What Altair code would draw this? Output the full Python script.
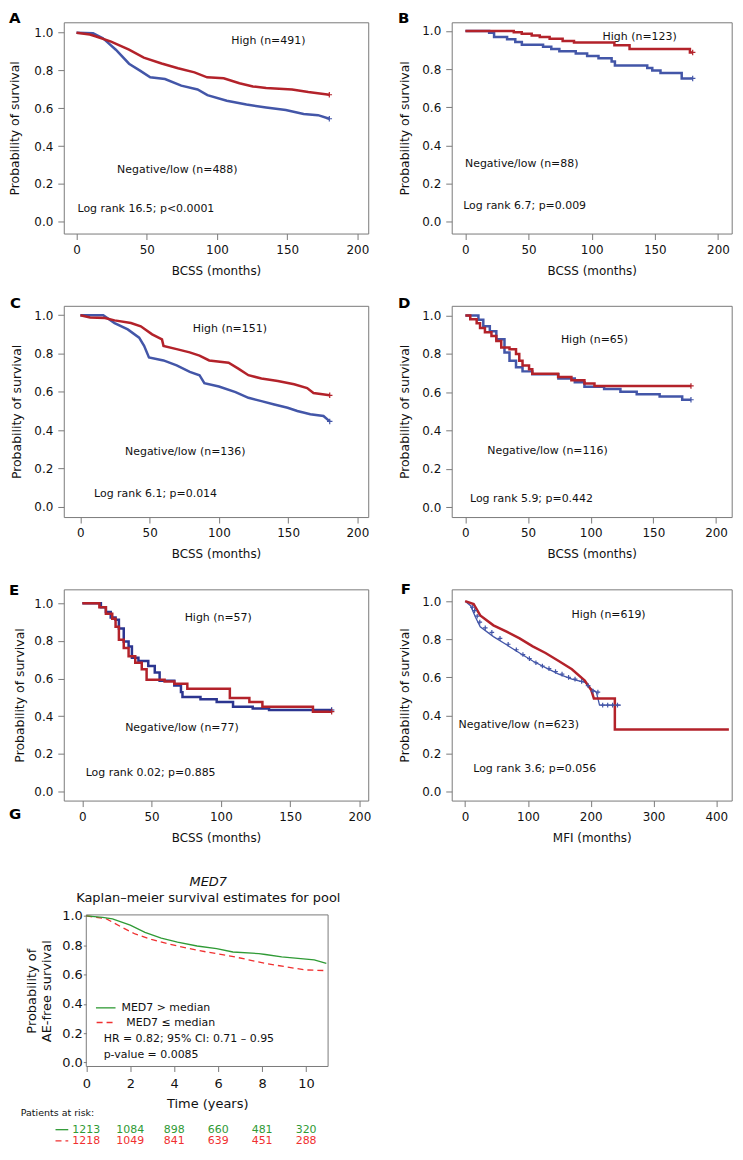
import altair as alt
import pandas as pd

SX = 0.983
SY = 0.982


def hx(v):
    return round(v * SX, 2)


def vy(v):
    return round(v * SY, 2)


FONT = "DejaVu Sans"
RED = "#b3222a"
BLUE = "#4356a8"
NAVY = "#2b3590"
GREEN = "#2f9a35"
GRED = "#f03030"
FRAME = "#7a7a7a"
INK = "#111111"
PLUS = "M-1,0L1,0M0,-1L0,1"
LETTER_FIX = 14.8

Y_TICKS = [0.0, 0.2, 0.4, 0.6, 0.8, 1.0]
BCSS_TICKS = [0, 50, 100, 150, 200]
MFI_TICKS = [0, 100, 200, 300, 400]
G_X_TICKS = [0, 2, 4, 6, 8, 10]

# ---------------- Panel A ----------------
a_hi_t = [0, 9.5, 14, 24.6, 37.4, 47.9, 60.6, 72.3, 84, 93, 104.8, 116, 125.6, 135, 153.5, 165, 180]
a_hi_s = [1.0, 0.99, 0.98, 0.953, 0.91, 0.868, 0.837, 0.812, 0.79, 0.764, 0.759, 0.733, 0.716, 0.707, 0.70, 0.686, 0.672]
a_lo_t = [0, 11.8, 18.8, 28, 37.4, 45.5, 52.5, 63, 74.6, 86.2, 93.2, 107, 121, 135, 149, 161.7, 172, 180]
a_lo_s = [1.0, 0.997, 0.971, 0.91, 0.836, 0.798, 0.764, 0.755, 0.72, 0.70, 0.67, 0.64, 0.62, 0.605, 0.591, 0.57, 0.564, 0.545]

# ---------------- Panel B ----------------
b_hi_t = [0, 38.3, 44.6, 52.5, 58.9, 66.7, 77, 86, 118, 130, 177.8, 180]
b_hi_s = [1.0, 0.993, 0.985, 0.976, 0.968, 0.959, 0.947, 0.939, 0.925, 0.905, 0.887, 0.887]
b_lo_t = [0, 18.8, 22.7, 33, 39.5, 44.7, 61.5, 68, 74.4, 87.4, 96.4, 105.4, 115.8, 118.4, 144, 148, 154.5, 171.3, 180]
b_lo_s = [1.0, 0.99, 0.968, 0.956, 0.942, 0.928, 0.917, 0.905, 0.894, 0.882, 0.869, 0.857, 0.84, 0.819, 0.806, 0.792, 0.78, 0.751, 0.751]

# ---------------- Panel C ----------------
c_hi_t = [0, 7, 17.7, 24.7, 36.5, 43.6, 51.8, 58.9, 60, 69.5, 78.9, 86, 93, 107, 114.3, 121.3, 130.7, 142.5, 154.3, 163.7, 168.3, 180]
c_hi_s = [1.0, 0.988, 0.985, 0.973, 0.959, 0.942, 0.90, 0.874, 0.84, 0.823, 0.806, 0.789, 0.764, 0.752, 0.72, 0.687, 0.67, 0.657, 0.64, 0.62, 0.594, 0.582]
c_lo_t = [0, 16.5, 24.7, 34.2, 42.4, 46, 49.5, 60, 69.5, 79, 86, 89.5, 100, 112, 121.3, 130.7, 140, 149.6, 156.6, 166, 175.5, 180]
c_lo_s = [1.0, 1.0, 0.959, 0.926, 0.883, 0.84, 0.78, 0.764, 0.738, 0.704, 0.687, 0.645, 0.628, 0.599, 0.569, 0.552, 0.534, 0.517, 0.50, 0.483, 0.474, 0.446]

# ---------------- Panel D ----------------
d_hi_t = [0, 3.9, 9, 11.7, 15.6, 20.8, 24.7, 28.6, 35.2, 40.4, 43, 45.6, 50.8, 53.4, 74, 84.6, 95, 103, 180]
d_hi_s = [1.0, 0.981, 0.96, 0.935, 0.913, 0.893, 0.867, 0.833, 0.825, 0.80, 0.765, 0.74, 0.72, 0.697, 0.68, 0.663, 0.646, 0.633, 0.633]
d_lo_t = [0, 6.5, 10.4, 14.3, 19.5, 24.7, 31.2, 35.2, 40.4, 45.6, 53.4, 74.2, 87.3, 95, 110.7, 123.7, 136.7, 155, 173, 180]
d_lo_s = [1.0, 1.0, 0.978, 0.944, 0.918, 0.876, 0.808, 0.765, 0.731, 0.709, 0.694, 0.672, 0.652, 0.629, 0.617, 0.603, 0.59, 0.578, 0.561, 0.561]

# ---------------- Panel E ----------------
e_hi_t = [0, 9.9, 12.3, 17, 21.6, 24, 26.4, 29.9, 33.4, 38.2, 42.9, 46.4, 59.4, 66.4, 75.8, 106.5, 120.6, 130, 166.5, 180]
e_hi_s = [1.0, 1.0, 0.979, 0.944, 0.918, 0.875, 0.806, 0.762, 0.719, 0.684, 0.65, 0.594, 0.584, 0.572, 0.546, 0.497, 0.476, 0.45, 0.424, 0.424]
e_lo_t = [0, 11, 13.4, 17, 20.5, 24, 26.4, 29.9, 33.4, 35.8, 40.5, 47.6, 52.3, 55.8, 66.4, 71.2, 72.3, 85.3, 97, 108.8, 123, 134.8, 180]
e_lo_s = [1.0, 1.0, 0.979, 0.953, 0.924, 0.913, 0.866, 0.797, 0.771, 0.71, 0.693, 0.667, 0.632, 0.589, 0.563, 0.528, 0.502, 0.49, 0.476, 0.45, 0.441, 0.433, 0.433]

# ---------------- Panel F ----------------
f_hi_t = [0, 13.5, 24, 45, 66, 86.7, 107.6, 128, 149, 170, 190.5, 201, 205, 238.4, 238.4, 420]
f_hi_s = [1.0, 0.985, 0.925, 0.873, 0.84, 0.805, 0.763, 0.728, 0.686, 0.643, 0.584, 0.532, 0.489, 0.489, 0.327, 0.327]
f_lo_t = [0, 8.7, 16.5, 24, 45, 66, 86.7, 107.6, 128, 149, 170, 190.5, 201, 209, 214, 248]
f_lo_s = [1.0, 0.976, 0.916, 0.865, 0.814, 0.771, 0.728, 0.686, 0.651, 0.617, 0.591, 0.574, 0.54, 0.523, 0.455, 0.455]
# censor crosses visible on the negative/low MFI curve
f_cens_t = [11.4, 15, 19.2, 23.3, 32, 42.5, 55.5, 68.5, 81.5, 92, 102.3, 112.7, 123, 133.5, 143.9, 154.3,
            164.7, 175, 185.5, 195.8, 203.6, 211.4, 219, 227, 234.8, 242.6]
f_cens_s = [0.968, 0.95, 0.921, 0.89, 0.86, 0.836, 0.805, 0.774, 0.745, 0.72, 0.699, 0.677, 0.66, 0.646, 0.631, 0.617,
            0.60, 0.591, 0.579, 0.557, 0.528, 0.523, 0.455, 0.455, 0.455, 0.455]

# ---------------- Panel G ----------------
g_hi_t = [0, 0.74, 1.19, 2.0, 2.67, 3.41, 4.15, 5.04, 5.93, 6.67, 7.85, 8.15, 8.89, 9.63, 10.37, 10.92]
g_hi_s = [1.0, 0.99, 0.98, 0.9375, 0.888, 0.848, 0.821, 0.795, 0.777, 0.754, 0.743, 0.737, 0.721, 0.71, 0.70, 0.676]
g_lo_t = [0, 0.89, 1.63, 2.22, 2.96, 3.7, 4.59, 5.48, 6.37, 7.26, 8.15, 9.04, 9.93, 10.92]
g_lo_s = [1.0, 0.982, 0.922, 0.877, 0.84, 0.81, 0.781, 0.754, 0.732, 0.705, 0.676, 0.654, 0.632, 0.627]

risk_t = [0, 2, 4, 6, 8, 10]
risk_hi = [1213, 1084, 898, 660, 481, 320]
risk_lo = [1218, 1049, 841, 639, 451, 288]

# annotation texts: (label, t, s)
notes = {
    "A": [("High (n=491)", 136.6, 0.957), ("Negative/low (n=488)", 71.8, 0.274), ("Log rank 16.5; p<0.0001", 0.7, 0.067)],
    "B": [("High (n=123)", 138, 0.969), ("Negative/low (n=88)", 44.6, 0.303), ("Log rank 6.7; p=0.009", -1.8, 0.082)],
    "C": [("High (n=151)", 107.9, 0.927), ("Negative/low (n=136)", 75.7, 0.286), ("Log rank 6.1; p=0.014", 9.9, 0.068)],
    "D": [("High (n=65)", 103, 0.872), ("Negative/low (n=116)", 65.5, 0.291), ("Log rank 5.9; p=0.442", 3.7, 0.044)],
    "E": [("High (n=57)", 98.1, 0.922), ("Negative/low (n=77)", 71.9, 0.338), ("Log rank 0.02; p=0.885", 2.4, 0.099)],
    "F": [("High (n=619)", 228.4, 0.928), ("Negative/low (n=623)", 85.4, 0.352), ("Log rank 3.6; p=0.056", 12.9, 0.122)],
}

W_LEFT, W_RIGHT, H_ROW = 311, 286, 216
LW = 2.5


def text_layer(df, X, Y, align, size=11, color=INK, style="normal"):
    return alt.Chart(df).mark_text(
        align=align, baseline="middle", fontSize=size, font=FONT, color=color, fontStyle=style
    ).encode(x=X, y=Y, text="label:N")


def letter_title(letter, ldx, ldy):
    return alt.TitleParams(letter, anchor="start", frame="group", offset=0, dx=hx(ldx), dy=vy(ldy + LETTER_FIX),
                           fontSize=15, fontWeight="bold", font=FONT, baseline="alphabetic", color="black")


def km_panel(letter, ldx, ldy, width, xdom, ydom, xticks, xtitle, title_x, curves, censors):
    xs = alt.Scale(domain=xdom, nice=False, zero=False)
    ys = alt.Scale(domain=ydom, nice=False, zero=False)
    xa = alt.Axis(values=xticks, title=xtitle, grid=False, domain=False, tickSize=6, tickColor=FRAME,
                  labelPadding=5, labelFlush=False, labelFontSize=12, titleFontSize=12,
                  titleFontWeight="normal", titleY=vy(37.5), titleBaseline="middle",
                  labelColor=INK, titleColor=INK)
    ya = alt.Axis(values=Y_TICKS, format=".1f", title="Probability of survival", grid=False, domain=False,
                  tickSize=6, tickColor=FRAME, labelPadding=5, labelFontSize=12, titleFontSize=12.5,
                  titleFontWeight="normal", titleX=hx(title_x), titleBaseline="middle",
                  labelColor=INK, titleColor=INK)
    X = alt.X("t:Q", scale=xs, axis=xa)
    Y = alt.Y("s:Q", scale=ys, axis=ya)
    layers = []
    for (t, s, color, interp, sw) in curves:
        df = pd.DataFrame({"t": t, "s": s})
        layers.append(alt.Chart(df).mark_line(color=color, strokeWidth=sw, interpolate=interp).encode(x=X, y=Y))
    for (t, s, color, size) in censors:
        df = pd.DataFrame({"t": t, "s": s})
        layers.append(alt.Chart(df).mark_point(shape=PLUS, size=size, filled=False, color=color,
                                               strokeWidth=1.2, opacity=1).encode(x=X, y=Y))
    nl = notes[letter]
    center_df = pd.DataFrame({"label": [nl[0][0], nl[1][0]], "t": [nl[0][1], nl[1][1]], "s": [nl[0][2], nl[1][2]]})
    left_df = pd.DataFrame({"label": [nl[2][0]], "t": [nl[2][1]], "s": [nl[2][2]]})
    layers.append(text_layer(center_df, X, Y, "center"))
    layers.append(text_layer(left_df, X, Y, "left"))
    return alt.layer(*layers).properties(width=hx(width), height=vy(H_ROW), title=letter_title(letter, ldx, ldy))


pA = km_panel("A", -56, 1.3, W_LEFT, [-9.06, 207.7], [-0.062, 1.055], BCSS_TICKS, "BCSS (months)", -50,
              [(a_lo_t, a_lo_s, BLUE, "linear", LW), (a_hi_t, a_hi_s, RED, "linear", LW)],
              [([a_lo_t[-1]], [a_lo_s[-1]], BLUE, 30), ([a_hi_t[-1]], [a_hi_s[-1]], RED, 30)])
pB = km_panel("B", -55, 1.3, W_RIGHT, [-10.85, 210.9], [-0.061, 1.045], BCSS_TICKS, "BCSS (months)", -48,
              [(b_lo_t, b_lo_s, BLUE, "step-after", LW), (b_hi_t, b_hi_s, RED, "step-after", LW)],
              [([b_lo_t[-1]], [b_lo_s[-1]], BLUE, 30), ([b_hi_t[-1]], [b_hi_s[-1]], RED, 30)])
pC = km_panel("C", -55, 2.3, W_LEFT, [-12.0, 207.8], [-0.053, 1.049], BCSS_TICKS, "BCSS (months)", -48,
              [(c_lo_t, c_lo_s, BLUE, "linear", LW), (c_hi_t, c_hi_s, RED, "linear", LW)],
              [([c_lo_t[-1]], [c_lo_s[-1]], BLUE, 30), ([c_hi_t[-1]], [c_hi_s[-1]], RED, 30)])
pD = km_panel("D", -55, 2.3, W_RIGHT, [-10.9, 212.5], [-0.051, 1.051], BCSS_TICKS, "BCSS (months)", -48,
              [(d_lo_t, d_lo_s, BLUE, "step-after", LW), (d_hi_t, d_hi_s, RED, "step-after", LW)],
              [([d_lo_t[-1]], [d_lo_s[-1]], BLUE, 30), ([d_hi_t[-1]], [d_hi_s[-1]], RED, 30)])
pE = km_panel("E", -56, 6.7, W_LEFT, [-13.4, 206.4], [-0.048, 1.074], BCSS_TICKS, "BCSS (months)", -45,
              [(e_lo_t, e_lo_s, NAVY, "step-after", LW), (e_hi_t, e_hi_s, RED, "step-after", LW)],
              [([e_lo_t[-1]], [e_lo_s[-1]], NAVY, 30), ([e_hi_t[-1]], [e_hi_s[-1]], RED, 30)])
pF = km_panel("F", -52, 5, W_RIGHT, [-21.4, 424.5], [-0.046, 1.062], MFI_TICKS, "MFI (months)", -48,
              [(f_lo_t, f_lo_s, BLUE, "linear", 1.3), (f_hi_t, f_hi_s, RED, "linear", LW)],
              [(f_cens_t, f_cens_s, BLUE, 22)])

# ---------------- Panel G build ----------------
G_XDOM = [0, 11]
G_YDOM = [-0.027, 1.007]
gxs = alt.Scale(domain=G_XDOM, range=[hx(23), hx(270)], nice=False, zero=False)
gys = alt.Scale(domain=G_YDOM, range=[vy(198), vy(43)], nice=False, zero=False)
gxa = alt.Axis(values=G_X_TICKS, title="Time (years)", grid=False, domain=False, tickSize=5, tickColor=FRAME,
               labelPadding=6, labelFlush=False, labelFontSize=13, titleFontSize=13, titleFontWeight="normal",
               titleY=vy(38), titleBaseline="middle", labelColor=INK, titleColor=INK)
gya = alt.Axis(values=Y_TICKS, format=".1f", title=["Probability of", "AE-free survival"], grid=False,
               domain=False, tickSize=3, tickColor=FRAME, labelPadding=1, offset=-hx(23), titleX=-hx(56),
               titleBaseline="middle", titleLineHeight=15, labelFontSize=13, titleFontSize=13,
               titleFontWeight="normal", labelColor=INK, titleColor=INK)
GX = alt.X("t:Q", scale=gxs, axis=gxa)
GY = alt.Y("s:Q", scale=gys, axis=gya)

g_frame = alt.Chart(pd.DataFrame({"t": [G_XDOM[0]], "t2": [G_XDOM[1]], "s": [G_YDOM[0]], "s2": [G_YDOM[1]]})).mark_rect(
    fill="transparent", stroke=FRAME, strokeWidth=1).encode(x=GX, x2="t2:Q", y=GY, y2="s2:Q")
g_lo = alt.Chart(pd.DataFrame({"t": g_lo_t, "s": g_lo_s})).mark_line(
    color=GRED, strokeWidth=1.3, strokeDash=[6, 4]).encode(x=GX, y=GY)
g_hi = alt.Chart(pd.DataFrame({"t": g_hi_t, "s": g_hi_s})).mark_line(
    color=GREEN, strokeWidth=1.3).encode(x=GX, y=GY)

leg_green = alt.Chart(pd.DataFrame({"t": [0.44, -1.4], "t2": [1.33, -0.82], "s": [0.373, -0.458]})).mark_rule(
    color=GREEN, strokeWidth=1.3).encode(x=GX, x2="t2:Q", y=GY)
leg_red = alt.Chart(pd.DataFrame({"t": [0.47, -1.4], "t2": [1.33, -0.82], "s": [0.273, -0.535]})).mark_rule(
    color=GRED, strokeWidth=1.3, strokeDash=[6, 4]).encode(x=GX, x2="t2:Q", y=GY)

g_title_it = text_layer(pd.DataFrame({"label": ["MED7"], "t": [5.55], "s": [1.231]}), GX, GY, "center", size=13, style="italic")
g_title = text_layer(pd.DataFrame({"label": ["Kaplan\u2013meier survival estimates for pool"], "t": [5.55], "s": [1.125]}),
                     GX, GY, "center", size=13)
g_notes = text_layer(pd.DataFrame({
    "label": ["MED7 > median", "MED7 \u2264 median", "HR = 0.82; 95% CI: 0.71 \u2013 0.95", "p-value = 0.0085"],
    "t": [1.6, 1.82, 0.79, 0.79],
    "s": [0.373, 0.273, 0.158, 0.053]}), GX, GY, "left", size=11)
g_risk_lbl = text_layer(pd.DataFrame({"label": ["Patients at risk:"], "t": [-2.98], "s": [-0.347]}), GX, GY, "left", size=9.5)
g_risk_hi = text_layer(pd.DataFrame({"label": [str(v) for v in risk_hi], "t": risk_t, "s": [-0.458] * len(risk_t)}),
                       GX, GY, "center", size=11, color=GREEN)
g_risk_lo = text_layer(pd.DataFrame({"label": [str(v) for v in risk_lo], "t": risk_t, "s": [-0.535] * len(risk_t)}),
                       GX, GY, "center", size=11, color=GRED)

pG = alt.layer(g_frame, g_lo, g_hi, leg_green, leg_red, g_title_it, g_title, g_notes,
               g_risk_lbl, g_risk_hi, g_risk_lo).properties(
    width=hx(270), height=vy(198), title=letter_title("G", -56, -55),
    view=alt.ViewBackground(stroke="transparent"))

chart = alt.concat(
    pA, pB, pC, pD, pE, pF, pG, columns=2,
    spacing={"row": vy(73), "column": hx(85)}, bounds="flush", align="each"
).properties(padding=0).configure(font=FONT).configure_view(stroke=FRAME, strokeWidth=1)

chart.save("out.html", embed_options={"renderer": "svg", "actions": False})
